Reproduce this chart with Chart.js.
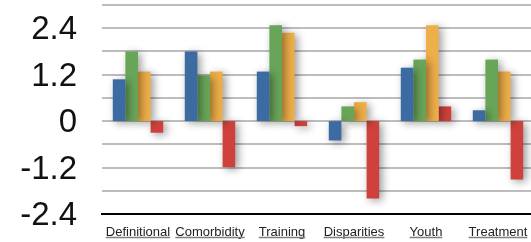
<!DOCTYPE html>
<html>
<head>
<meta charset="utf-8">
<script src="https://cdn.jsdelivr.net/npm/chart.js@4"></script>
<style>
  html, body { margin: 0; padding: 0; background: #fff; overflow: hidden; }
  canvas { display: block; }
</style>
</head>
<body>
<canvas id="chart" width="534" height="242"></canvas>
<script>
const categories = ['Definitional', 'Comorbidity', 'Training', 'Disparities', 'Youth', 'Treatment']
const blueValues = [1.08, 1.8, 1.28, -0.5, 1.38, 0.28]
const greenValues = [1.8, 1.18, 2.48, 0.38, 1.59, 1.59]
const orangeValues = [1.28, 1.28, 2.28, 0.49, 2.48, 1.28]
const redValues = [-0.3, -1.19, -0.13, -2.0, 0.38, -1.51]
const yTickLabels = [-2.4, -1.2, 0, 1.2, 2.4]

// soft drop shadow behind the bars
const barShadow = {
  id: 'barShadow',
  beforeDatasetsDraw(chart) {
    const ctx = chart.ctx
    ctx.save()
    ctx.shadowColor = 'rgba(0, 0, 0, 0.4)'
    ctx.shadowBlur = 9
    ctx.shadowOffsetX = 3
    ctx.shadowOffsetY = 2
  },
  afterDatasetsDraw(chart) {
    chart.ctx.restore()
  }
}

// underline the category labels
const underline = {
  id: 'underline',
  afterDraw(chart) {
    const ctx = chart.ctx
    const scale = chart.scales.x
    ctx.save()
    ctx.font = '13px "Liberation Sans", Arial, sans-serif'
    ctx.strokeStyle = '#808080'
    ctx.lineWidth = 1.5
    scale.ticks.forEach((t, i) => {
      const x = scale.getPixelForTick(i)
      const w = ctx.measureText(t.label).width
      ctx.beginPath()
      ctx.moveTo(x - w / 2, 237.5)
      ctx.lineTo(x + w / 2, 237.5)
      ctx.stroke()
    })
    ctx.restore()
  }
}

const makeSet = (label, data, color) => ({
  label: label,
  data: data,
  backgroundColor: color,
  borderWidth: 0,
  barPercentage: 1.0,
  categoryPercentage: 0.7
})

new Chart(document.getElementById('chart'), {
  type: 'bar',
  data: {
    labels: categories,
    datasets: [
      makeSet('Series 1', blueValues, '#3b6ba0'),
      makeSet('Series 2', greenValues, '#69a558'),
      makeSet('Series 3', orangeValues, '#eeae48'),
      makeSet('Series 4', redValues, '#cf413c')
    ]
  },
  options: {
    responsive: false,
    animation: false,
    layout: { padding: { top: 5, right: 0, left: 0, bottom: 0 } },
    plugins: {
      legend: { display: false },
      tooltip: { enabled: false }
    },
    scales: {
      x: {
        grid: { display: false },
        border: { display: true, color: '#000', width: 2 },
        ticks: {
          color: '#222',
          padding: 3,
          autoSkip: false,
          maxRotation: 0,
          font: { family: '"Liberation Sans", Arial, sans-serif', size: 13 }
        },
        afterFit(scale) { scale.height = 28 }
      },
      y: {
        min: -2.4,
        max: 3.0,
        border: { display: false },
        grid: {
          drawTicks: true,
          tickLength: 25,
          tickColor: 'rgba(0,0,0,0)',
          lineWidth: 2,
          color: ctx => ctx.tick && Math.abs(ctx.tick.value + 2.4) < 1e-6 ? 'rgba(0,0,0,0)' : '#bdbdbd'
        },
        ticks: {
          stepSize: 0.6,
          padding: 0,
          labelOffset: 2,
          color: '#111',
          font: { family: '"Liberation Sans", Arial, sans-serif', size: 33, lineHeight: 0.2 },
          callback(value) {
            const hit = yTickLabels.find(v => Math.abs(v - value) < 1e-6)
            if (hit === undefined) return ''
            return hit === 0 ? '0' : hit.toFixed(1)
          }
        },
        afterFit(scale) { scale.width = 102 }
      }
    }
  },
  plugins: [barShadow, underline]
})
</script>
</body>
</html>
